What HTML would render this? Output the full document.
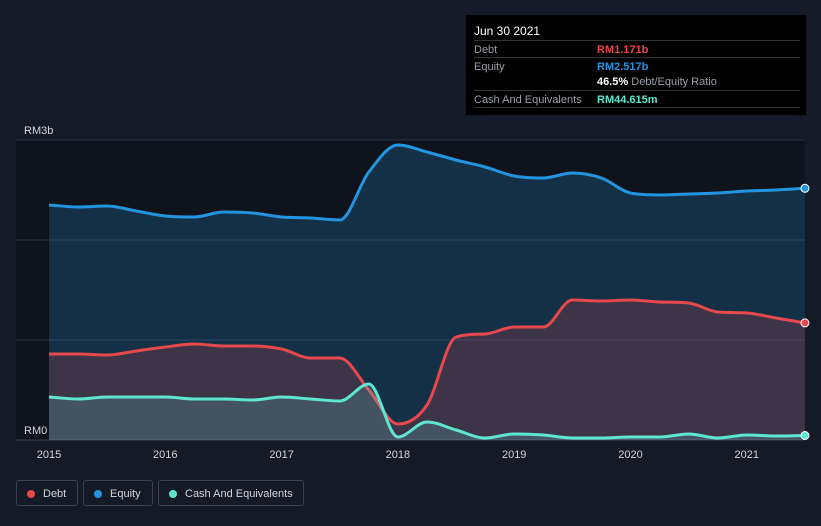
<!DOCTYPE html>
<html><head><meta charset="utf-8"><style>
body{margin:0;background:#151b26;font-family:"Liberation Sans",sans-serif;}
#wrap{position:relative;width:821px;height:526px;overflow:hidden;background:#151b26;}
.tt{position:absolute;left:466px;top:15px;width:340px;height:100px;background:#000;color:#fff;font-size:11px;}
.row{position:absolute;left:8px;right:6px;height:17px;border-top:1px solid #333;}
.row span{position:absolute;top:3px;}
.lg{position:absolute;top:480px;height:26px;border:1px solid #3a4150;border-radius:3px;color:#d0d4da;font-size:11px;line-height:26px;box-sizing:border-box;}
.dot{display:inline-block;width:8px;height:8px;border-radius:50%;margin:0 8px 0 10px;vertical-align:-1px;}
</style></head><body>
<div id="wrap">
<svg id="svg" width="821" height="526" style="position:absolute;left:0;top:0"></svg>
<div class="tt">
<div style="position:absolute;left:8px;top:9px;font-size:12px">Jun 30 2021</div>
<div class="row" style="top:25px"><span style="color:#9aa0a8">Debt</span><span style="left:123px;color:#e5484d;font-weight:bold">RM1.171b</span></div>
<div class="row" style="top:42px"><span style="color:#9aa0a8">Equity</span><span style="left:123px;color:#2394df;font-weight:bold">RM2.517b</span></div>
<div style="position:absolute;left:131px;top:61px"><b>46.5%</b> <span style="color:#9aa0a8">Debt/Equity Ratio</span></div>
<div class="row" style="top:75px"><span style="color:#9aa0a8">Cash And Equivalents</span><span style="left:123px;color:#5ee6d1;font-weight:bold">RM44.615m</span></div>
<div class="row" style="top:92px;height:0"></div>
</div>
<div class="lg" style="left:16px;width:62px"><span class="dot" style="background:#e5484d"></span>Debt</div>
<div class="lg" style="left:83px;width:70px"><span class="dot" style="background:#2394df"></span>Equity</div>
<div class="lg" style="left:158px;width:146px"><span class="dot" style="background:#5ee6d1"></span>Cash And Equivalents</div>
</div>
<script>
const years=[2015,2015.25,2015.5,2015.75,2016,2016.25,2016.5,2016.75,2017,2017.25,2017.5,2017.75,2018,2018.25,2018.5,2018.75,2019,2019.25,2019.5,2019.75,2020,2020.25,2020.5,2020.75,2021,2021.25,2021.5];
const equity=[2.35,2.33,2.34,2.29,2.24,2.23,2.28,2.27,2.23,2.22,2.20,2.68,2.95,2.88,2.80,2.73,2.64,2.62,2.67,2.62,2.47,2.45,2.46,2.47,2.49,2.50,2.517];
const debt=[0.86,0.86,0.85,0.89,0.93,0.96,0.94,0.94,0.91,0.82,0.82,0.50,0.16,0.35,1.03,1.06,1.13,1.13,1.40,1.39,1.40,1.38,1.37,1.28,1.27,1.22,1.171];
const cash=[0.43,0.41,0.43,0.43,0.43,0.41,0.41,0.40,0.43,0.41,0.39,0.56,0.03,0.18,0.10,0.02,0.06,0.05,0.02,0.02,0.03,0.03,0.06,0.02,0.05,0.04,0.045];
const xTicks=[2015,2016,2017,2018,2019,2020,2021];
const yLabels=[[3,"RM3b"],[0,"RM0"]];
const NS="http://www.w3.org/2000/svg",svg=document.getElementById('svg');
const X=v=>49+(v-2015)*116.3, Y=v=>440-v*100;
function mk(t,a,name){const e=document.createElementNS(NS,t);for(const k in a)e.setAttribute(k,a[k]);


svg.appendChild(e);return e;}
mk('rect',{x:16,y:140,width:789,height:300,fill:'#0f141c'},'plot-area');
[1,2].forEach(v=>mk('line',{x1:16,x2:805,y1:Y(v),y2:Y(v),stroke:'#2a3140'},'gridline'));
mk('line',{x1:16,x2:805,y1:140,y2:140,stroke:'#2a3140'},'gridline-top');
mk('line',{x1:16,x2:805,y1:440,y2:440,stroke:'#3a4150'},'x-axis');
xTicks.forEach(t=>{const e=mk('text',{x:X(t),y:458,fill:'#d0d4da','font-size':11,'text-anchor':'middle'},'x-tick-label');e.textContent=t;});
yLabels.forEach(([v,l])=>{const e=mk('text',{x:24,y:Y(v)-6,fill:'#d0d4da','font-size':11},'y-tick-label');e.textContent=l;});
function path(vals){const p=vals.map((v,i)=>[X(years[i]),Y(v)]);const n=p.length;
const s=[];for(let i=0;i<n-1;i++)s.push((p[i+1][1]-p[i][1])/(p[i+1][0]-p[i][0]));
const m=[s[0]];for(let i=1;i<n-1;i++)m.push(s[i-1]*s[i]<=0?0:(s[i-1]+s[i])/2);m.push(s[n-2]);
for(let i=0;i<n-1;i++){if(s[i]===0){m[i]=m[i+1]=0;continue;}const a=m[i]/s[i],b=m[i+1]/s[i],h=a*a+b*b;if(h>9){const t=3/Math.sqrt(h);m[i]=t*a*s[i];m[i+1]=t*b*s[i];}}
let d='M'+p[0];
for(let i=0;i<n-1;i++){const dx=(p[i+1][0]-p[i][0])/3;
d+=` C${p[i][0]+dx},${p[i][1]+m[i]*dx} ${p[i+1][0]-dx},${p[i+1][1]-m[i+1]*dx} ${p[i+1]}`;}return d;}
function series(vals,col,fill,name){const d=path(vals);
mk('path',{d:d+` L${X(years[years.length-1])},440 L${X(years[0])},440Z`,fill:fill},name+'-area');
mk('path',{d:d,fill:'none',stroke:col,'stroke-width':3},name+'-line');
mk('circle',{cx:X(years[years.length-1]),cy:Y(vals[vals.length-1]),r:4,fill:col,stroke:'#fff','stroke-width':1},name+'-end-dot');}
series(equity,'#2394df','rgba(35,148,223,0.22)','equity');
series(debt,'#e5484d','rgba(229,72,77,0.2)','debt');
series(cash,'#5ee6d1','rgba(94,230,209,0.18)','cash');
</script>
</body></html>
